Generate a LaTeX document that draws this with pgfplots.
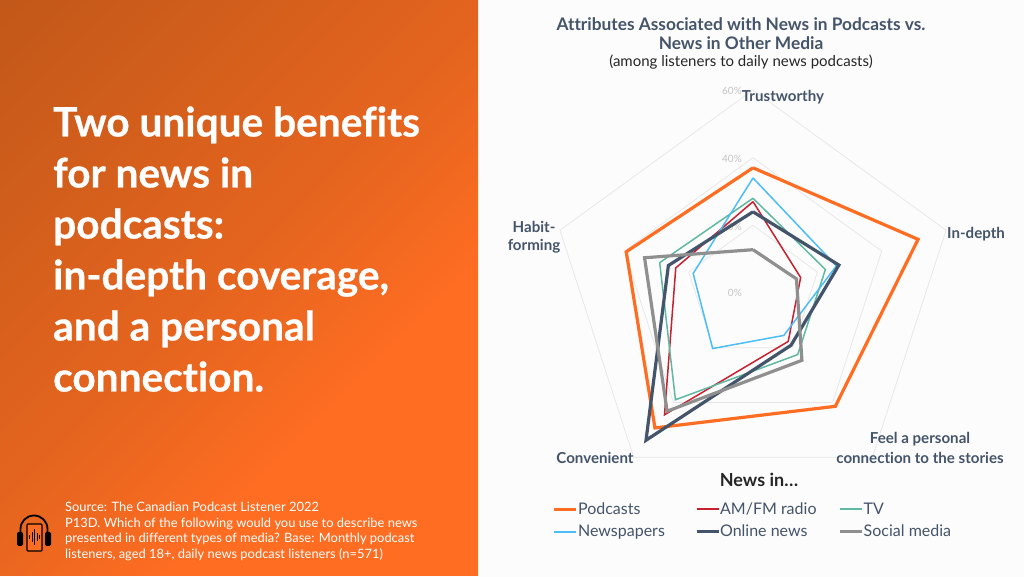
\documentclass[border=0pt]{standalone}
\usepackage{pgfplots}
\usepgfplotslibrary{polar}
\pgfplotsset{compat=1.18}
\usepackage{fontspec}
\setmainfont{Lato}[Ligatures=NoCommon]
\newfontfamily\headfont{Lato}[Ligatures=NoCommon,BoldFeatures={FakeBold=0.6}]

\definecolor{slate}{HTML}{44546A}
\definecolor{cPod}{HTML}{FF6D22}
\definecolor{cRadio}{HTML}{C8202F}
\definecolor{cTV}{HTML}{5FB8A2}
\definecolor{cNews}{HTML}{4DBDF5}
\definecolor{cGrid}{HTML}{E6E6E6}
\definecolor{cSocial}{HTML}{8F8F8F}
\definecolor{cTick}{HTML}{C4C4C4}
\definecolor{pA}{HTML}{C25819}
\definecolor{pB}{HTML}{E6651F}

\pgfdeclarehorizontalshading{panel}{100bp}{color(0bp)=(pA); color(15bp)=(pA); color(50bp)=(pB); color(65bp)=(cPod); color(100bp)=(cPod)}

\begin{document}
\begin{tikzpicture}
\clip (0,0) rectangle (1024pt,577pt);
\fill[white!99!black] (0,0) rectangle (1024pt,577pt);

% pixel coordinates, y measured from the top
\begin{scope}[x=1pt,y=-1pt,yshift=577pt]
  \shade[shading=panel,shading angle=-45] (0,0) rectangle (478,576);

  % headline
  \foreach \yy/\txt in {136.5/{Two unique benefits},187.5/{for news in},238.5/{podcasts:},289.5/{in-depth coverage,},340.5/{and a personal},391.5/{connection.}}
    \node[anchor=base west,inner sep=0pt,text=white,font=\headfont\fontsize{40.6}{44}\selectfont\bfseries] at (53,\yy) {\txt};

  % source note
  \foreach \yy/\txt in {512/{Source: The Canadian Podcast Listener 2022},
      528/{P13D. Which of the following would you use to describe news},
      543/{presented in different types of media? Base: Monthly podcast},
      559/{listeners, aged 18+, daily news podcast listeners (n=571)}}
    \node[anchor=base west,inner sep=0pt,text=white,font=\fontsize{12.9}{15}\selectfont] at (65,\yy) {\txt};

  % podcast icon
  \draw[line width=1.8pt,black] (20.5,536) -- (20.5,529) arc[start angle=180,end angle=360,radius=13.5] -- (47.5,536);
  \fill[black,rounded corners=1.5pt] (17,532) rectangle (23,546);
  \fill[black,rounded corners=1.5pt] (45,532) rectangle (51,546);
  \draw[line width=1.3pt,black,fill=cPod,rounded corners=1pt] (27,524) rectangle (42,551);
  \foreach \xx/\hh in {29.5/2,32/5,34.5/8,37/4,39.5/2}
    \draw[line width=1pt,black] (\xx,537-\hh) -- (\xx,537+\hh);

  % titles
  \node[text=slate,font=\fontsize{17.3}{20}\selectfont\bfseries] at (741,24) {Attributes Associated with News in Podcasts vs.};
  \node[text=slate,font=\fontsize{17.3}{20}\selectfont\bfseries] at (741,43) {News in Other Media};
  \node[text=black!85,font=\fontsize{15}{18}\selectfont] at (741,62) {(among listeners to daily news podcasts)};

  % radial tick labels
  \foreach \yy/\txt in {293/0\%,227/20\%,159/40\%,91/60\%}
    \node[anchor=east,inner sep=0pt,text=cTick,font=\fontsize{10}{12}\selectfont] at (742,\yy) {\txt};
\end{scope}

\begin{polaraxis}[
  name=radar,
  at={(753pt,284pt)},
  anchor=center,
  scale only axis,
  width=406pt,
  height=406pt,
  hide axis,
  clip=false,
  xmin=0,xmax=360,
  ymin=0,ymax=60,
  legend columns=3,
  legend cell align=left,
  legend style={
    at={(axis description cs:0.5,0.5)},
    xshift=0pt,yshift=-227.5pt,
    anchor=center,
    draw=none,fill=none,
    font=\fontsize{16}{19}\selectfont,
    text=slate,
    row sep=5pt,
    /tikz/column 1/.style={column sep=-2pt},
    /tikz/column 3/.style={column sep=-2pt},
    /tikz/column 5/.style={column sep=-2pt},
    /tikz/column 2/.style={column sep=28pt},
    /tikz/column 4/.style={column sep=20pt},
  },
  legend image code/.code={\draw[#1] (0pt,0pt) -- (22pt,0pt);},
]
% grid pentagons
\addplot[forget plot,cGrid,line width=.7pt] coordinates {(90,20) (18,20) (306,20) (234,20) (162,20) (90,20)};
\addplot[forget plot,cGrid,line width=.7pt] coordinates {(90,40) (18,40) (306,40) (234,40) (162,40) (90,40)};
\addplot[forget plot,cGrid,line width=.7pt] coordinates {(90,60) (18,60) (306,60) (234,60) (162,60) (90,60)};

% angles: Trustworthy, In-depth, personal connection, Convenient, Habit-forming
\addplot[cPod,line width=3.2pt,line join=miter] coordinates {(90,37) (18,51.3) (306,41.4) (234,49.3) (162,39.4) (90,37)};
\addlegendentry{Podcasts}
\addplot[cRadio,line width=1.5pt,legend image post style={line width=2pt}] coordinates {(90,27) (18,14.8) (306,17.7) (234,44.5) (162,24) (90,27)};
\addlegendentry{AM/FM radio}
\addplot[cTV,line width=1.5pt,legend image post style={line width=2pt}] coordinates {(90,28) (18,22.5) (306,22.5) (234,39) (162,29) (90,28)};
\addlegendentry{TV}
\addplot[cNews,line width=1.5pt,legend image post style={line width=2pt}] coordinates {(90,34) (18,25.9) (306,15.5) (234,20.3) (162,18.6) (90,34)};
\addlegendentry{Newspapers}
\addplot[slate,line width=3.2pt] coordinates {(90,24) (18,26.7) (306,19.1) (234,53.8) (162,26.3) (90,24)};
\addlegendentry{Online news}
\addplot[cSocial,line width=3.2pt] coordinates {(90,12.8) (18,13.5) (306,24.6) (234,43.2) (162,33.7) (90,12.8)};
\addlegendentry{Social media}
\end{polaraxis}

\begin{scope}[x=1pt,y=-1pt,yshift=577pt]
  \tikzset{lab/.style={text=slate,inner sep=0pt,font=\fontsize{15.1}{18}\selectfont\bfseries}}
  \node[lab] at (783,97) {Trustworthy};
  \node[lab,anchor=west] at (947,234) {In-depth};
  \node[lab] at (920,439) {Feel a personal};
  \node[lab] at (920,458) {connection to the stories};
  \node[lab] at (595,458) {Convenient};
  \node[lab] at (534,227) {Habit-};
  \node[lab] at (534,246) {forming};
  \node[text=black!85,font=\fontsize{18}{21}\selectfont\bfseries] at (759,480) {News in…};
\end{scope}
\end{tikzpicture}
\end{document}
